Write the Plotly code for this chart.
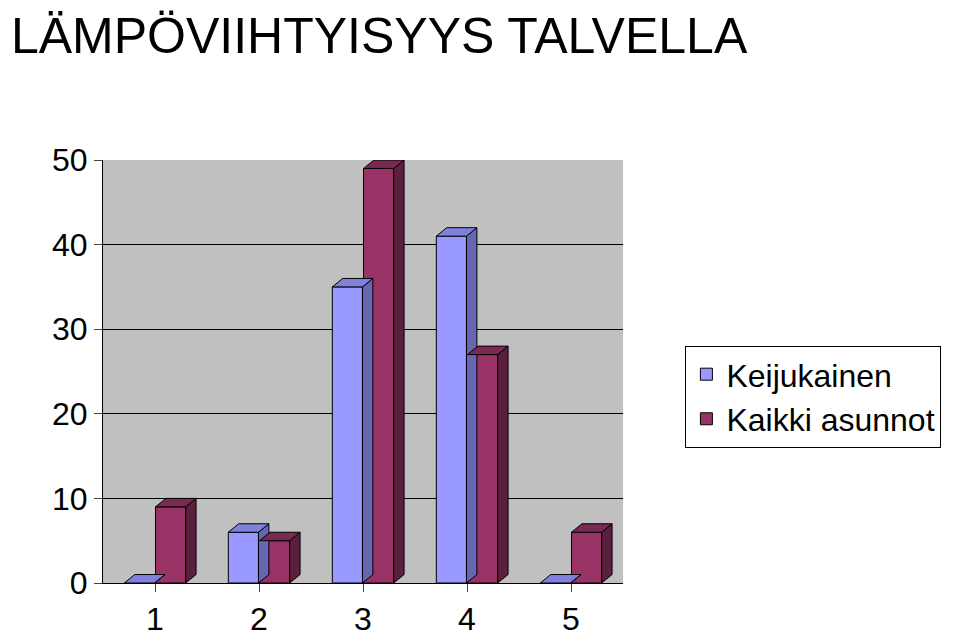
import plotly.graph_objects as go

categories = [1, 2, 3, 4, 5]
keijukainen = [0, 6, 35, 41, 0]
kaikki = [9, 5, 49, 27, 6]

series = [
    ("Keijukainen", keijukainen, -0.15, "#9999ff", "#6666b3", "#8080dd"),
    ("Kaikki asunnot", kaikki, 0.15, "#993366", "#5c1f3d", "#7a2952"),
]
w = 0.29
dx, dy = 0.1, 1.0

fig = go.Figure()
for name, vals, off, c, side_c, top_c in series:
    sx, sy, tx, ty = [], [], [], []
    for x, v in zip(categories, vals):
        x0, x1 = x + off - w / 2, x + off + w / 2
        sx += [x1, x1 + dx, x1 + dx, x1, x1, None]
        sy += [0, dy, v + dy, v, 0, None]
        tx += [x0, x0 + dx, x1 + dx, x1, x0, None]
        ty += [v, v + dy, v + dy, v, v, None]
    fig.add_trace(go.Bar(x=[x + off for x in categories], y=vals, width=w, name=name,
                         marker=dict(color=c, line=dict(color="black", width=1))))
    fig.add_trace(go.Scatter(x=sx, y=sy, fill="toself", fillcolor=side_c, mode="lines",
                             line=dict(color="black", width=1), showlegend=False,
                             cliponaxis=False, hoverinfo="skip"))
    fig.add_trace(go.Scatter(x=tx, y=ty, fill="toself", fillcolor=top_c, mode="lines",
                             line=dict(color="black", width=1), showlegend=False,
                             cliponaxis=False, hoverinfo="skip"))

fig.update_layout(
    width=960, height=641,
    title=dict(text="LÄMPÖVIIHTYISYYS TALVELLA", x=0.003, y=0.985, xanchor="left", yanchor="top",
               font=dict(size=50, color="black")),
    font=dict(family="Liberation Sans, Arial", color="black", size=32),
    paper_bgcolor="white", plot_bgcolor="#c0c0c0",
    margin=dict(l=95, r=345, t=152, b=54),
    barmode="overlay",
    xaxis=dict(range=[0.5, 5.5], tickvals=categories, ticks="outside", ticklen=8,
               showline=True, linecolor="black", showgrid=False, zeroline=False),
    yaxis=dict(range=[0, 50], dtick=10, ticks="outside", ticklen=8, showline=True,
               linecolor="black", gridcolor="black", gridwidth=1, zeroline=False),
    legend=dict(x=1.12, y=0.44, xanchor="left", yanchor="middle", bordercolor="black",
                borderwidth=1, font=dict(size=32), tracegroupgap=10),
)
fig.write_html("out.html")
